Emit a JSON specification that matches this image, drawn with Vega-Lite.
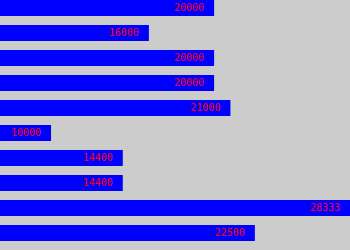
{
  "$schema": "https://vega.github.io/schema/vega-lite/v6.json",
  "width": 350,
  "height": 250,
  "padding": 0,
  "autosize": {"type": "none"},
  "background": "#CCCCCC",
  "config": {"view": {"stroke": null}},
  "data": {
    "values": [
      {"row": "1", "value": 20000},
      {"row": "2", "value": 16000},
      {"row": "3", "value": 20000},
      {"row": "4", "value": 20000},
      {"row": "5", "value": 21000},
      {"row": "6", "value": 10000},
      {"row": "7", "value": 14400},
      {"row": "8", "value": 14400},
      {"row": "9", "value": 28333},
      {"row": "10", "value": 22500}
    ]
  },
  "encoding": {
    "y": {
      "field": "row",
      "type": "nominal",
      "sort": null,
      "axis": null,
      "scale": {"paddingInner": 0.36, "paddingOuter": 0.18, "align": 0}
    },
    "x": {
      "field": "value",
      "type": "quantitative",
      "axis": null,
      "scale": {"domain": [6870, 28333], "zero": false, "nice": false, "clamp": true}
    }
  },
  "layer": [
    {"mark": {"type": "bar", "color": "#0000FF", "cornerRadius": 0}},
    {
      "mark": {
        "type": "text",
        "align": "right",
        "baseline": "middle",
        "dx": -10,
        "color": "#FF0000",
        "font": "DejaVu Sans Mono",
        "fontSize": 10
      },
      "encoding": {"text": {"field": "value", "type": "quantitative", "format": "d"}}
    }
  ]
}
